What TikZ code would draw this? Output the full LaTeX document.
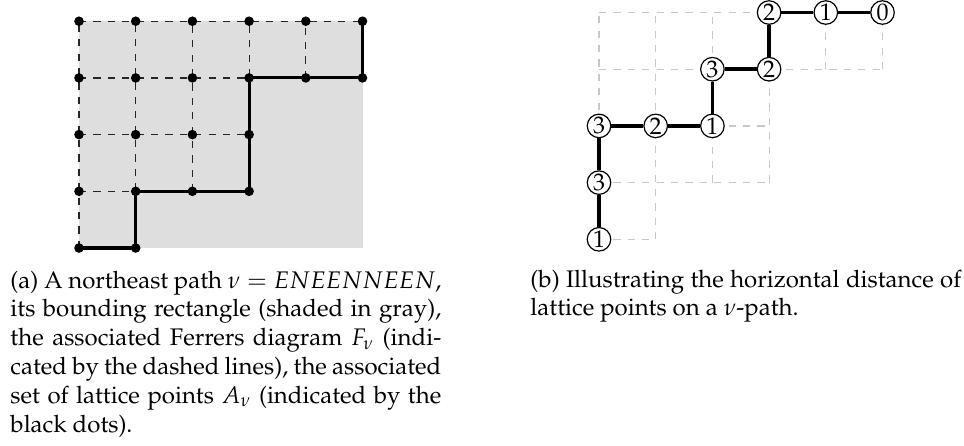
\documentclass[tikz,border=0pt]{standalone}
\usepackage[T1]{fontenc}
\usepackage{mathpazo}
\usetikzlibrary{backgrounds}
\definecolor{boxgray}{RGB}{222,222,222}
\definecolor{lightgrid}{RGB}{200,200,200}
\tikzset{
  ferrers/.style={dashed, line width=0.5pt, black!85},
  lightferrers/.style={dashed, line width=0.5pt, lightgrid},
  patha/.style={line width=1.3pt, black},
  pathb/.style={line width=1.5pt, black},
  dot/.style={circle, fill=black, inner sep=0pt, minimum size=4pt},
  hd/.style={circle, draw=black, fill=white, line width=0.5pt, inner sep=0pt,
             minimum size=9.8pt, font=\fontsize{10}{12}\selectfont},
  capt/.style={anchor=base west, text width=179.5pt, inner sep=0pt, align=justify,
               font=\fontsize{10}{12}\selectfont}
}
\begin{document}
\begin{tikzpicture}[x=0.416667pt,y=-0.416667pt]
\useasboundingbox (0,0) rectangle (964,445);

% ---------- (a) ----------
\begin{scope}[shift={(79,248)},x=23.625pt,y=23.625pt]
  % lattice points A_nu
  \foreach \i in {0,1} {\node[dot] (a-\i-0) at (\i,0) {};}
  \foreach \j in {1,2} {\foreach \i in {0,...,3} {\node[dot] (a-\i-\j) at (\i,\j) {};}}
  \foreach \j in {3,4} {\foreach \i in {0,...,5} {\node[dot] (a-\i-\j) at (\i,\j) {};}}
  \begin{pgfonlayer}{background}
    \fill[boxgray] (0,0) rectangle (5,4);
    % Ferrers diagram
    \draw[ferrers] (0,0) -- (1,0);
    \draw[ferrers] (0,1) -- (3,1);
    \draw[ferrers] (0,2) -- (3,2);
    \draw[ferrers] (0,3) -- (5,3);
    \draw[ferrers] (0,4) -- (5,4);
    \draw[ferrers] (0,0) -- (0,4);
    \draw[ferrers] (1,0) -- (1,4);
    \draw[ferrers] (2,1) -- (2,4);
    \draw[ferrers] (3,1) -- (3,4);
    \draw[ferrers] (4,3) -- (4,4);
    \draw[ferrers] (5,3) -- (5,4);
    % the path nu = ENEENNEEN
    \draw[patha] (a-0-0.center) -- (a-1-0.center) -- (a-1-1.center) -- (a-2-1.center)
      -- (a-3-1.center) -- (a-3-2.center) -- (a-3-3.center) -- (a-4-3.center)
      -- (a-5-3.center) -- (a-5-4.center);
  \end{pgfonlayer}
\end{scope}

% ---------- (b) ----------
\begin{scope}[shift={(599,239.3)},x=23.625pt,y=23.625pt]
  \node[hd] (b1) at (0,0) {1};
  \node[hd] (b2) at (0,1) {3};
  \node[hd] (b3) at (0,2) {3};
  \node[hd] (b4) at (1,2) {2};
  \node[hd] (b5) at (2,2) {1};
  \node[hd] (b6) at (2,3) {3};
  \node[hd] (b7) at (3,3) {2};
  \node[hd] (b8) at (3,4) {2};
  \node[hd] (b9) at (4,4) {1};
  \node[hd] (b10) at (5,4) {0};
  \begin{pgfonlayer}{background}
    \draw[lightferrers] (0,0) -- (1,0);
    \draw[lightferrers] (0,1) -- (3,1);
    \draw[lightferrers] (0,2) -- (3,2);
    \draw[lightferrers] (0,3) -- (5,3);
    \draw[lightferrers] (0,4) -- (5,4);
    \draw[lightferrers] (0,0) -- (0,4);
    \draw[lightferrers] (1,0) -- (1,4);
    \draw[lightferrers] (2,1) -- (2,4);
    \draw[lightferrers] (3,1) -- (3,4);
    \draw[lightferrers] (4,3) -- (4,4);
    \draw[lightferrers] (5,3) -- (5,4);
    \draw[pathb] (b1) -- (b2) -- (b3) -- (b4) -- (b5) -- (b6) -- (b7) -- (b8) -- (b9) -- (b10);
  \end{pgfonlayer}
\end{scope}

% ---------- captions ----------
\node[capt] (capa) at (10,288) {(a) A northeast path $\nu = ENEENNEEN$,\linebreak
  its bounding rectangle (shaded in gray),\linebreak
  the associated Ferrers diagram $F_\nu$ (indi-\linebreak
  cated by the dashed lines), the associated\linebreak
  set of lattice points $A_\nu$ (indicated by the\linebreak
  black dots).};
\node[capt] (capb) at (530,287) {(b) Illustrating the horizontal distance of\linebreak
  lattice points on a $\nu$-path.};
\end{tikzpicture}
\end{document}
